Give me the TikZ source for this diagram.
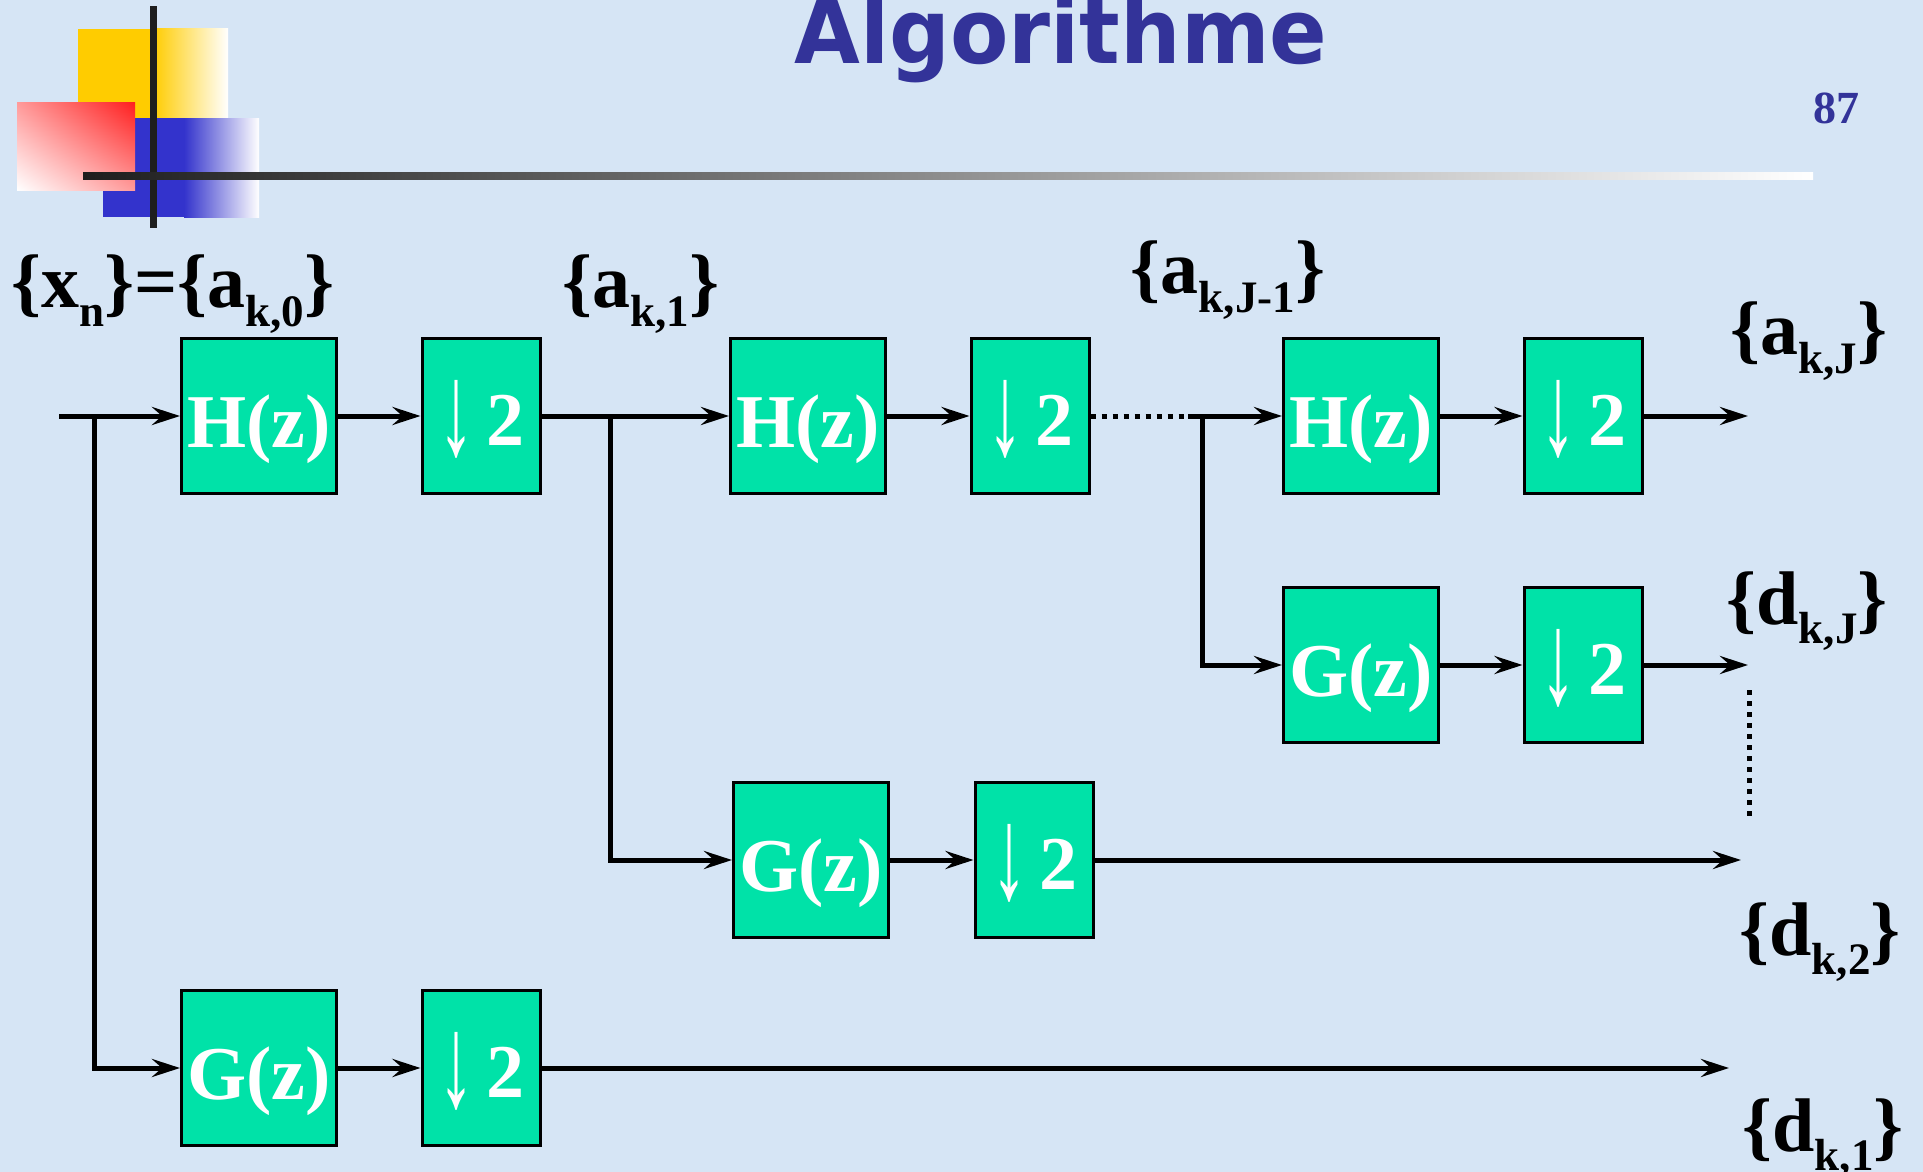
\documentclass[tikz,border=0pt]{standalone}
\usepackage{fontspec}
\setmainfont{Liberation Serif}
\newfontfamily\titlefont{DejaVu Sans}
\usetikzlibrary{positioning, arrows.meta, shadings}

\definecolor{slidebg}{RGB}{214,229,245}
\definecolor{boxgreen}{RGB}{0,226,168}
\definecolor{titleblue}{RGB}{51,51,153}
\definecolor{logoyellow}{RGB}{255,204,0}
\definecolor{logored}{RGB}{255,30,30}
\definecolor{logoblue}{RGB}{51,51,204}
\definecolor{barblack}{RGB}{30,30,30}

% subscript of a signal name, and the decimation arrow
\newcommand{\lsub}[1]{\raisebox{-19pt}{\fontsize{45}{45}\selectfont #1}}
\newcommand{\dn}{\raisebox{-13pt}{\raisebox{\depth}{\resizebox*{36pt}{78pt}{↓}}}}

\begin{document}
\begin{tikzpicture}[
    x=1pt, y=-1pt,
    >=Stealth,
    % Blocks
    filter/.style={
        draw=black, line width=3pt, fill=boxgreen, text=white,
        minimum width=155pt, minimum height=155pt, inner sep=0pt,
        text height=70pt, text depth=8pt,
        font=\bfseries\fontsize{76}{76}\selectfont
    },
    decim/.style={filter, minimum width=118pt, text height=68pt, text depth=10pt},
    % Wires
    wire/.style={line width=5pt},
    conn/.style={wire, -{Stealth[length=28pt, width=18pt, inset=10pt]}},
    dotwire/.style={wire, dash pattern=on 5pt off 6pt},
    % Labels
    sig_text/.style={font=\bfseries\fontsize{76}{76}\selectfont, anchor=base, inner sep=0pt},
    title_text/.style={font=\titlefont\bfseries\fontsize{90}{90}\selectfont, text=titleblue, anchor=base, inner sep=0pt},
    num_text/.style={font=\bfseries\fontsize{46}{46}\selectfont, text=titleblue, anchor=base, inner sep=0pt}
]

    % --- SLIDE ---
    \useasboundingbox (0,0) rectangle (1923,1172);
    \fill[slidebg] (0,0) rectangle (1923,1172);

    % --- LOGO ---
    \fill[logoyellow] (78,29) rectangle (153,118);
    \shade[left color=logoyellow, right color=white] (153,29) rectangle (228,118);
    \fill[logoblue] (103,118) rectangle (184,217);
    \shade[left color=logoblue, right color=white] (184,118) rectangle (259,217);
    \shade[upper right=logored, lower left=white,
           upper left=logored!45!white, lower right=logored!45!white] (17,102) rectangle (135,190);
    \fill[barblack] (150,6) rectangle (157,228);
    \shade[left color=barblack, right color=white] (83,172) rectangle (1813,179);

    \node[title_text] (title) at (1061,64) {\scalebox{0.945}[1]{Algorithme}};
    \node[num_text] (pnum) at (1836,123) {87};

    % --- BLOCKS ---
    \foreach \nm/\px/\py in {H1/259/416, H2/808/416, H3/1361/416} {
        \node[filter] (\nm) at (\px,\py) {H(z)};
    }
    \foreach \nm/\px/\py in {G1/259/1068, G2/811/860, G3/1361/665} {
        \node[filter] (\nm) at (\px,\py) {G(z)};
    }
    \foreach \nm/\px/\py in {D1/481/416, D2/1030/416, D3/1583/416,
                             E1/481/1068, E2/1034/860, E3/1583/665} {
        \node[decim] (\nm) at (\px,\py) {\dn\hspace{12pt}2};
    }

    % --- BRANCH POINTS AND FREE ENDS ---
    \coordinate (in) at (59,416);
    \coordinate (b1) at (94,416);
    \coordinate (b2) at (610,416);
    \coordinate (dots) at (1188,416);
    \coordinate (b3) at (1202,416);
    \coordinate (aJend) at (1748,416);
    \coordinate (dJend) at (1748,665);
    \coordinate (d2end) at (1741,860);
    \coordinate (d1end) at (1729,1068);
    \coordinate (vtop) at (1749,690);
    \coordinate (vbot) at (1749,820);

    % --- CONNECTIONS ---
    \draw[conn] (in) -- (H1);
    \draw[conn] (b1) |- (G1);
    \draw[conn] (H1) -- (D1);
    \draw[conn] (D1) -- (H2);
    \draw[conn] (b2) |- (G2);
    \draw[conn] (H2) -- (D2);
    \draw[dotwire] (D2) -- (dots);
    \draw[conn] (dots) -- (H3);
    \draw[conn] (b3) |- (G3);
    \draw[conn] (H3) -- (D3);
    \draw[conn] (D3) -- (aJend);
    \draw[conn] (G3) -- (E3);
    \draw[conn] (E3) -- (dJend);
    \draw[dotwire] (vtop) -- (vbot);
    \draw[conn] (G2) -- (E2);
    \draw[conn] (E2) -- (d2end);
    \draw[conn] (G1) -- (E1);
    \draw[conn] (E1) -- (d1end);

    % --- SIGNAL LABELS ---
    \node[sig_text] (x0) at (173,307) {\{x\lsub{n}\}=\{a\lsub{k,0}\}};
    \node[sig_text] (a1) at (641,307) {\{a\lsub{k,1}\}};
    \node[sig_text] (aJm) at (1228,293) {\{a\lsub{k,J-1}\}};
    \node[sig_text] (aJ) at (1809,354) {\{a\lsub{k,J}\}};
    \node[sig_text] (dJ) at (1807,624) {\{d\lsub{k,J}\}};
    \node[sig_text] (d2) at (1820,955) {\{d\lsub{k,2}\}};
    \node[sig_text] (d1) at (1823,1151) {\{d\lsub{k,1}\}};

\end{tikzpicture}
\end{document}
